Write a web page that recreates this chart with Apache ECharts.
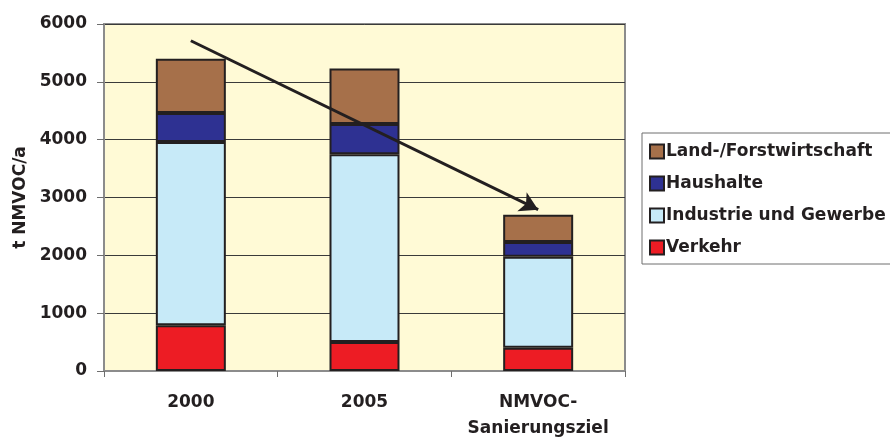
<!DOCTYPE html>
<html>
<head>
<meta charset="utf-8">
<script src="https://cdn.jsdelivr.net/npm/echarts@6/dist/echarts.min.js"></script>
<style>
  html, body { margin: 0; padding: 0; background: #fff; }
  #chart { width: 890px; height: 438px; }
</style>
</head>
<body>
<div id="chart"></div>
<script>
// NMVOC emissions by source sector (t/a)
const categories = ['2000', '2005', 'NMVOC-\nSanierungsziel'];
const verkehr = [790, 500, 400];
const industrie = [3170, 3250, 1575];
const haushalte = [500, 520, 255];
const landForst = [940, 960, 470];
const yTicks = { min: 0, max: 6000, step: 1000 };
// Trend arrow endpoints: [category index, value]
const trendStart = [0, 5710];
const trendEnd = [2, 2790];

const font = '"DejaVu Sans", "Liberation Sans", Arial, sans-serif';
const ink = '#231F20';

function bar(name, data, color) {
  return {
    name: name,
    type: 'bar',
    stack: 'total',
    data: data,
    barWidth: 70,
    itemStyle: { color: color, borderColor: ink, borderWidth: 2 }
  };
}

const series = [
  bar('Verkehr', verkehr, '#ED1C24'),
  bar('Industrie und Gewerbe', industrie, '#C7EAF8'),
  bar('Haushalte', haushalte, '#2E3192'),
  bar('Land-/Forstwirtschaft', landForst, '#A6704A')
];

series[3].markLine = {
  silent: true,
  symbol: ['none', 'arrow'],
  symbolSize: [16, 18],
  label: { show: false },
  lineStyle: { color: ink, width: 3, type: 'solid' },
  data: [[
    { coord: [trendStart[0], trendStart[1]] },
    { coord: [trendEnd[0], trendEnd[1]] }
  ]]
};

const chart = echarts.init(document.getElementById('chart'));
chart.setOption({
  animation: false,
  backgroundColor: '#ffffff',
  textStyle: { fontFamily: font },
  grid: {
    left: 104, right: 265, top: 24, bottom: 67,
    containLabel: false,
    outerBoundsMode: 'none',
    show: true,
    backgroundColor: '#FFFAD6',
    borderColor: '#8C8C8C',
    borderWidth: 2
  },
  legend: {
    orient: 'vertical',
    left: 642,
    top: 133,
    padding: [10, 40, 8, 7],
    itemWidth: 14,
    itemHeight: 14,
    itemGap: 15,
    icon: 'rect',
    borderColor: '#6E6E6E',
    borderWidth: 1,
    backgroundColor: '#ffffff',
    data: ['Land-/Forstwirtschaft', 'Haushalte', 'Industrie und Gewerbe', 'Verkehr'],
    textStyle: { fontFamily: font, fontWeight: 'bold', fontSize: 17, color: ink, padding: [0, 0, 0, -3] }
  },
  xAxis: {
    type: 'category',
    data: categories,
    axisLine: { lineStyle: { color: '#8C8C8C', width: 2 } },
    axisTick: { show: true, length: 6, lineStyle: { color: '#6E6E6E' } },
    axisLabel: {
      interval: 0,
      hideOverlap: false,
      fontFamily: font, fontWeight: 'bold', fontSize: 17, color: ink,
      margin: 19, lineHeight: 26
    }
  },
  yAxis: {
    type: 'value',
    min: yTicks.min,
    max: yTicks.max,
    interval: yTicks.step,
    name: 't NMVOC/a',
    nameLocation: 'middle',
    nameGap: 73,
    nameTextStyle: { fontFamily: font, fontWeight: 'bold', fontSize: 17, color: ink },
    axisLine: { show: true, lineStyle: { color: '#8C8C8C', width: 2 } },
    axisTick: { show: true, length: 7, lineStyle: { color: '#6E6E6E' } },
    axisLabel: {
      fontFamily: font, fontWeight: 'bold', fontSize: 17, color: ink, margin: 17,
      formatter: function (v) { return String(v); }
    },
    splitLine: { show: true, lineStyle: { color: '#3A3A3A', width: 1 } }
  },
  series: series
});
</script>
</body>
</html>
